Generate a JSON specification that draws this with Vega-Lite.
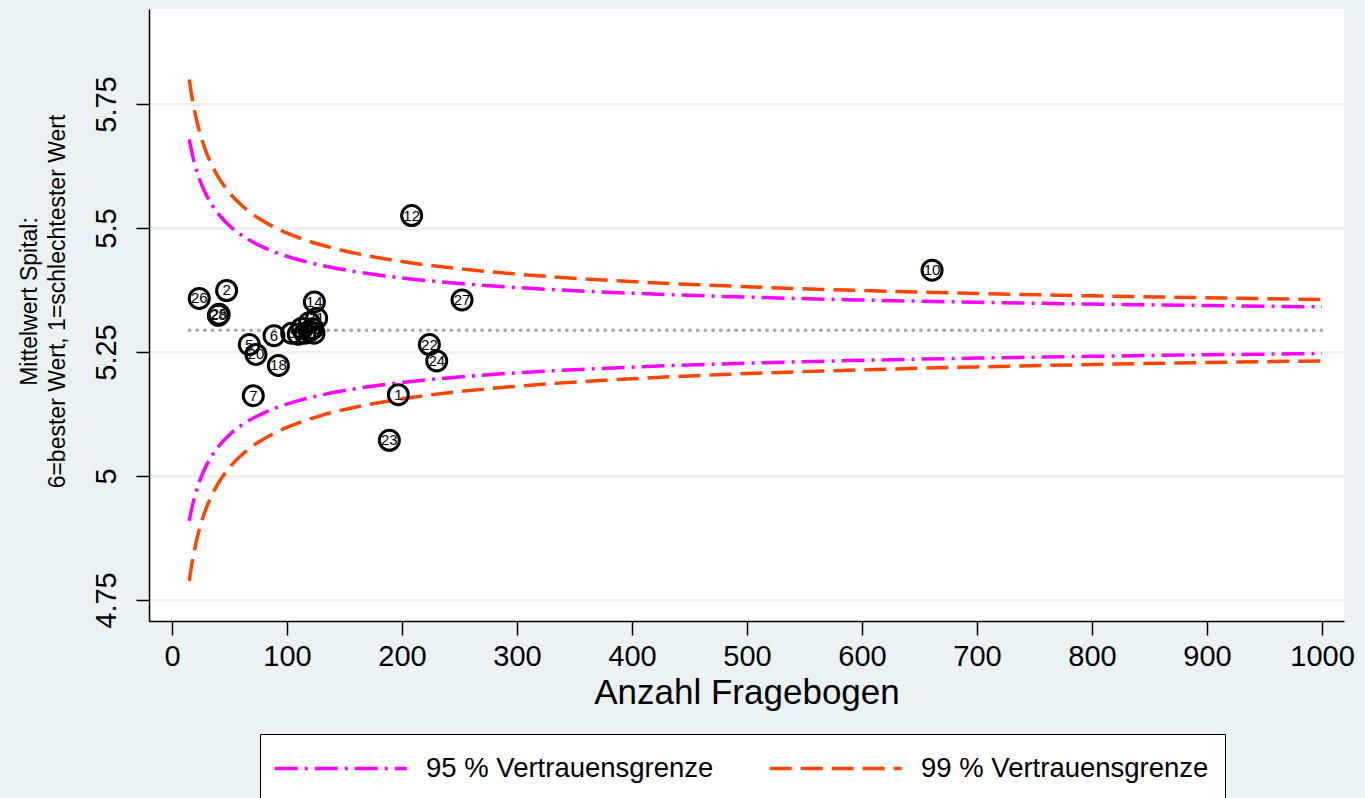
{
  "$schema": "https://vega.github.io/schema/vega-lite/v6.json",
  "width": 1195,
  "height": 612,
  "autosize": {"type": "none"},
  "padding": {"left": 149, "top": 9, "right": 21, "bottom": 177},
  "background": "#eaf2f3",
  "config": {
    "font": "Liberation Sans",
    "view": {"fill": "white", "stroke": null},
    "legend": {
      "orient": "none",
      "legendX": 111,
      "legendY": 725,
      "direction": "horizontal",
      "symbolType": "M-1.2,0H6.8",
      "symbolSize": 1089,
      "symbolStrokeWidth": 3.5,
      "labelFontSize": 27.5,
      "labelFont": "Liberation Sans",
      "labelColor": "black",
      "labelLimit": 400,
      "labelOffset": 113,
      "columnPadding": 48,
      "padding": 16,
      "fillColor": "white",
      "strokeColor": "black"
    }
  },
  "datasets": {
    "mean": [
      {"n": 15, "v": 5.294},
      {"n": 1000, "v": 5.294}
    ],
    "limits": [
      {"n": 15, "level": "95 % Vertrauensgrenze", "side": "oben95", "v": 5.6786},
      {"n": 17, "level": "95 % Vertrauensgrenze", "side": "oben95", "v": 5.6553},
      {"n": 20, "level": "95 % Vertrauensgrenze", "side": "oben95", "v": 5.6271},
      {"n": 23, "level": "95 % Vertrauensgrenze", "side": "oben95", "v": 5.6046},
      {"n": 26, "level": "95 % Vertrauensgrenze", "side": "oben95", "v": 5.5861},
      {"n": 30, "level": "95 % Vertrauensgrenze", "side": "oben95", "v": 5.566},
      {"n": 35, "level": "95 % Vertrauensgrenze", "side": "oben95", "v": 5.5458},
      {"n": 40, "level": "95 % Vertrauensgrenze", "side": "oben95", "v": 5.5295},
      {"n": 50, "level": "95 % Vertrauensgrenze", "side": "oben95", "v": 5.5047},
      {"n": 60, "level": "95 % Vertrauensgrenze", "side": "oben95", "v": 5.4863},
      {"n": 75, "level": "95 % Vertrauensgrenze", "side": "oben95", "v": 5.466},
      {"n": 90, "level": "95 % Vertrauensgrenze", "side": "oben95", "v": 5.451},
      {"n": 110, "level": "95 % Vertrauensgrenze", "side": "oben95", "v": 5.436},
      {"n": 130, "level": "95 % Vertrauensgrenze", "side": "oben95", "v": 5.4247},
      {"n": 160, "level": "95 % Vertrauensgrenze", "side": "oben95", "v": 5.4118},
      {"n": 200, "level": "95 % Vertrauensgrenze", "side": "oben95", "v": 5.3993},
      {"n": 250, "level": "95 % Vertrauensgrenze", "side": "oben95", "v": 5.3882},
      {"n": 300, "level": "95 % Vertrauensgrenze", "side": "oben95", "v": 5.38},
      {"n": 400, "level": "95 % Vertrauensgrenze", "side": "oben95", "v": 5.3685},
      {"n": 500, "level": "95 % Vertrauensgrenze", "side": "oben95", "v": 5.3606},
      {"n": 600, "level": "95 % Vertrauensgrenze", "side": "oben95", "v": 5.3548},
      {"n": 700, "level": "95 % Vertrauensgrenze", "side": "oben95", "v": 5.3503},
      {"n": 800, "level": "95 % Vertrauensgrenze", "side": "oben95", "v": 5.3467},
      {"n": 900, "level": "95 % Vertrauensgrenze", "side": "oben95", "v": 5.3437},
      {"n": 1000, "level": "95 % Vertrauensgrenze", "side": "oben95", "v": 5.3411},
      {"n": 15, "level": "95 % Vertrauensgrenze", "side": "unten95", "v": 4.9094},
      {"n": 17, "level": "95 % Vertrauensgrenze", "side": "unten95", "v": 4.9327},
      {"n": 20, "level": "95 % Vertrauensgrenze", "side": "unten95", "v": 4.9609},
      {"n": 23, "level": "95 % Vertrauensgrenze", "side": "unten95", "v": 4.9834},
      {"n": 26, "level": "95 % Vertrauensgrenze", "side": "unten95", "v": 5.0019},
      {"n": 30, "level": "95 % Vertrauensgrenze", "side": "unten95", "v": 5.022},
      {"n": 35, "level": "95 % Vertrauensgrenze", "side": "unten95", "v": 5.0422},
      {"n": 40, "level": "95 % Vertrauensgrenze", "side": "unten95", "v": 5.0585},
      {"n": 50, "level": "95 % Vertrauensgrenze", "side": "unten95", "v": 5.0833},
      {"n": 60, "level": "95 % Vertrauensgrenze", "side": "unten95", "v": 5.1017},
      {"n": 75, "level": "95 % Vertrauensgrenze", "side": "unten95", "v": 5.122},
      {"n": 90, "level": "95 % Vertrauensgrenze", "side": "unten95", "v": 5.137},
      {"n": 110, "level": "95 % Vertrauensgrenze", "side": "unten95", "v": 5.152},
      {"n": 130, "level": "95 % Vertrauensgrenze", "side": "unten95", "v": 5.1634},
      {"n": 160, "level": "95 % Vertrauensgrenze", "side": "unten95", "v": 5.1762},
      {"n": 200, "level": "95 % Vertrauensgrenze", "side": "unten95", "v": 5.1887},
      {"n": 250, "level": "95 % Vertrauensgrenze", "side": "unten95", "v": 5.1998},
      {"n": 300, "level": "95 % Vertrauensgrenze", "side": "unten95", "v": 5.208},
      {"n": 400, "level": "95 % Vertrauensgrenze", "side": "unten95", "v": 5.2195},
      {"n": 500, "level": "95 % Vertrauensgrenze", "side": "unten95", "v": 5.2274},
      {"n": 600, "level": "95 % Vertrauensgrenze", "side": "unten95", "v": 5.2332},
      {"n": 700, "level": "95 % Vertrauensgrenze", "side": "unten95", "v": 5.2377},
      {"n": 800, "level": "95 % Vertrauensgrenze", "side": "unten95", "v": 5.2413},
      {"n": 900, "level": "95 % Vertrauensgrenze", "side": "unten95", "v": 5.2444},
      {"n": 1000, "level": "95 % Vertrauensgrenze", "side": "unten95", "v": 5.2469},
      {"n": 15, "level": "99 % Vertrauensgrenze", "side": "oben99", "v": 5.7995},
      {"n": 17, "level": "99 % Vertrauensgrenze", "side": "oben99", "v": 5.7688},
      {"n": 20, "level": "99 % Vertrauensgrenze", "side": "oben99", "v": 5.7318},
      {"n": 23, "level": "99 % Vertrauensgrenze", "side": "oben99", "v": 5.7022},
      {"n": 26, "level": "99 % Vertrauensgrenze", "side": "oben99", "v": 5.678},
      {"n": 30, "level": "99 % Vertrauensgrenze", "side": "oben99", "v": 5.6514},
      {"n": 35, "level": "99 % Vertrauensgrenze", "side": "oben99", "v": 5.6249},
      {"n": 40, "level": "99 % Vertrauensgrenze", "side": "oben99", "v": 5.6036},
      {"n": 50, "level": "99 % Vertrauensgrenze", "side": "oben99", "v": 5.5709},
      {"n": 60, "level": "99 % Vertrauensgrenze", "side": "oben99", "v": 5.5468},
      {"n": 75, "level": "99 % Vertrauensgrenze", "side": "oben99", "v": 5.5201},
      {"n": 90, "level": "99 % Vertrauensgrenze", "side": "oben99", "v": 5.5004},
      {"n": 110, "level": "99 % Vertrauensgrenze", "side": "oben99", "v": 5.4807},
      {"n": 130, "level": "99 % Vertrauensgrenze", "side": "oben99", "v": 5.4657},
      {"n": 160, "level": "99 % Vertrauensgrenze", "side": "oben99", "v": 5.4488},
      {"n": 200, "level": "99 % Vertrauensgrenze", "side": "oben99", "v": 5.4324},
      {"n": 250, "level": "99 % Vertrauensgrenze", "side": "oben99", "v": 5.4178},
      {"n": 300, "level": "99 % Vertrauensgrenze", "side": "oben99", "v": 5.407},
      {"n": 400, "level": "99 % Vertrauensgrenze", "side": "oben99", "v": 5.3919},
      {"n": 500, "level": "99 % Vertrauensgrenze", "side": "oben99", "v": 5.3816},
      {"n": 600, "level": "99 % Vertrauensgrenze", "side": "oben99", "v": 5.3739},
      {"n": 700, "level": "99 % Vertrauensgrenze", "side": "oben99", "v": 5.368},
      {"n": 800, "level": "99 % Vertrauensgrenze", "side": "oben99", "v": 5.3632},
      {"n": 900, "level": "99 % Vertrauensgrenze", "side": "oben99", "v": 5.3593},
      {"n": 1000, "level": "99 % Vertrauensgrenze", "side": "oben99", "v": 5.3559},
      {"n": 15, "level": "99 % Vertrauensgrenze", "side": "unten99", "v": 4.7885},
      {"n": 17, "level": "99 % Vertrauensgrenze", "side": "unten99", "v": 4.8192},
      {"n": 20, "level": "99 % Vertrauensgrenze", "side": "unten99", "v": 4.8562},
      {"n": 23, "level": "99 % Vertrauensgrenze", "side": "unten99", "v": 4.8858},
      {"n": 26, "level": "99 % Vertrauensgrenze", "side": "unten99", "v": 4.9101},
      {"n": 30, "level": "99 % Vertrauensgrenze", "side": "unten99", "v": 4.9366},
      {"n": 35, "level": "99 % Vertrauensgrenze", "side": "unten99", "v": 4.9631},
      {"n": 40, "level": "99 % Vertrauensgrenze", "side": "unten99", "v": 4.9845},
      {"n": 50, "level": "99 % Vertrauensgrenze", "side": "unten99", "v": 5.0171},
      {"n": 60, "level": "99 % Vertrauensgrenze", "side": "unten99", "v": 5.0413},
      {"n": 75, "level": "99 % Vertrauensgrenze", "side": "unten99", "v": 5.0679},
      {"n": 90, "level": "99 % Vertrauensgrenze", "side": "unten99", "v": 5.0876},
      {"n": 110, "level": "99 % Vertrauensgrenze", "side": "unten99", "v": 5.1073},
      {"n": 130, "level": "99 % Vertrauensgrenze", "side": "unten99", "v": 5.1223},
      {"n": 160, "level": "99 % Vertrauensgrenze", "side": "unten99", "v": 5.1392},
      {"n": 200, "level": "99 % Vertrauensgrenze", "side": "unten99", "v": 5.1556},
      {"n": 250, "level": "99 % Vertrauensgrenze", "side": "unten99", "v": 5.1702},
      {"n": 300, "level": "99 % Vertrauensgrenze", "side": "unten99", "v": 5.181},
      {"n": 400, "level": "99 % Vertrauensgrenze", "side": "unten99", "v": 5.1961},
      {"n": 500, "level": "99 % Vertrauensgrenze", "side": "unten99", "v": 5.2065},
      {"n": 600, "level": "99 % Vertrauensgrenze", "side": "unten99", "v": 5.2141},
      {"n": 700, "level": "99 % Vertrauensgrenze", "side": "unten99", "v": 5.22},
      {"n": 800, "level": "99 % Vertrauensgrenze", "side": "unten99", "v": 5.2248},
      {"n": 900, "level": "99 % Vertrauensgrenze", "side": "unten99", "v": 5.2287},
      {"n": 1000, "level": "99 % Vertrauensgrenze", "side": "unten99", "v": 5.2321}
    ],
    "points": [
      {"id": "1", "n": 196.8, "v": 5.164},
      {"id": "2", "n": 47.5, "v": 5.374},
      {"id": "3", "n": 104.1, "v": 5.288},
      {"id": "4", "n": 109.8, "v": 5.286},
      {"id": "5", "n": 67.2, "v": 5.265},
      {"id": "6", "n": 88.7, "v": 5.283},
      {"id": "7", "n": 70.7, "v": 5.162},
      {"id": "8", "n": 115.7, "v": 5.288},
      {"id": "9", "n": 119.4, "v": 5.292},
      {"id": "10", "n": 660.9, "v": 5.415},
      {"id": "11", "n": 125.8, "v": 5.318},
      {"id": "12", "n": 208.4, "v": 5.525},
      {"id": "13", "n": 122.3, "v": 5.297},
      {"id": "14", "n": 123.8, "v": 5.351},
      {"id": "15", "n": 119.4, "v": 5.309},
      {"id": "16", "n": 113, "v": 5.298},
      {"id": "17", "n": 123.5, "v": 5.288},
      {"id": "18", "n": 92.5, "v": 5.223},
      {"id": "20", "n": 73, "v": 5.245},
      {"id": "22", "n": 223.8, "v": 5.265},
      {"id": "23", "n": 189, "v": 5.072},
      {"id": "24", "n": 230.2, "v": 5.232},
      {"id": "25", "n": 41, "v": 5.326},
      {"id": "26", "n": 23.7, "v": 5.358},
      {"id": "27", "n": 252.2, "v": 5.355},
      {"id": "28", "n": 40.3, "v": 5.324}
    ]
  },
  "encoding": {
    "x": {
      "field": "n",
      "type": "quantitative",
      "scale": {"domain": [-20, 1019.1], "nice": false, "zero": false},
      "axis": {
        "values": [0, 100, 200, 300, 400, 500, 600, 700, 800, 900, 1000],
        "labelExpr": "'' + datum.value",
        "grid": false,
        "domainColor": "black",
        "domainWidth": 1.5,
        "tickColor": "black",
        "tickWidth": 1.5,
        "tickSize": 14,
        "labelFontSize": 29,
        "labelColor": "black",
        "labelPadding": 7,
        "labelFlush": false,
        "labelOverlap": false,
        "title": "Anzahl Fragebogen",
        "titleFontSize": 35,
        "titleFontWeight": "normal",
        "titleColor": "black",
        "titlePadding": 4
      }
    },
    "y": {
      "field": "v",
      "type": "quantitative",
      "scale": {"domain": [4.7077, 5.9415], "nice": false, "zero": false},
      "axis": {
        "values": [4.75, 5, 5.25, 5.5, 5.75],
        "labelExpr": "'' + datum.value",
        "grid": true,
        "gridColor": "#eaf2f3",
        "gridWidth": 3,
        "domainColor": "black",
        "domainWidth": 1.5,
        "tickColor": "black",
        "tickWidth": 1.5,
        "tickSize": 13,
        "labelAngle": -90,
        "labelAlign": "center",
        "labelBaseline": "bottom",
        "labelFontSize": 29,
        "labelColor": "black",
        "labelPadding": 15,
        "labelOverlap": false,
        "labelFlush": false,
        "title": ["Mittelwert Spital:", "6=bester Wert, 1=schlechtester Wert"],
        "titleFontSize": 23,
        "titleFontWeight": "normal",
        "titleColor": "black",
        "titleLineHeight": 28,
        "titlePadding": 23,
        "titleY": 292
      }
    }
  },
  "layer": [
    {
      "data": {"name": "mean"},
      "mark": {"type": "line", "color": "#aaaaaa", "strokeWidth": 3.5, "strokeDash": [0.5, 7.2], "strokeCap": "round"}
    },
    {
      "data": {"name": "limits"},
      "mark": {"type": "line", "strokeWidth": 3.5, "interpolate": "monotone"},
      "encoding": {
        "color": {
          "field": "level",
          "type": "nominal",
          "scale": {"domain": ["95 % Vertrauensgrenze", "99 % Vertrauensgrenze"], "range": ["#ff00ff", "#ff4500"]},
          "legend": {"title": null}
        },
        "strokeDash": {
          "field": "level",
          "type": "nominal",
          "scale": {"domain": ["95 % Vertrauensgrenze", "99 % Vertrauensgrenze"], "range": [[23, 7, 3, 7], [22, 9]]},
          "legend": {"title": null}
        },
        "detail": {"field": "side", "type": "nominal"}
      }
    },
    {
      "data": {"name": "points"},
      "mark": {"type": "point", "shape": "circle", "filled": false, "color": "black", "strokeWidth": 3, "size": 400, "opacity": 1}
    },
    {
      "data": {"name": "points"},
      "mark": {"type": "text", "fontSize": 15, "color": "black", "align": "center", "baseline": "middle", "font": "Liberation Sans"},
      "encoding": {"text": {"field": "id", "type": "nominal"}}
    }
  ]
}
